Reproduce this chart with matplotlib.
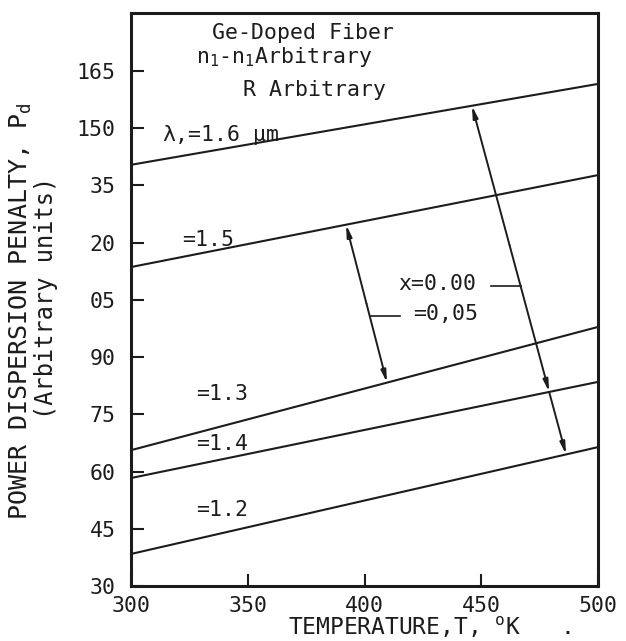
import numpy as np
import matplotlib
matplotlib.use('Agg')
import matplotlib.pyplot as plt

# wavelength curves, penalty read at T = 300 K and T = 500 K
temps = [300, 500]
lam_names = ['1.6', '1.5', '1.3', '1.4', '1.2']
pd_300 = [140.4, 113.6, 65.6, 58.3, 38.4]
pd_500 = [161.6, 137.7, 97.9, 83.5, 66.4]

# y tick labels exactly as printed on the scan
y_ticks = [30, 45, 60, 75, 90, 105, 120, 135, 150, 165]
y_tick_labels = ['30', '45', '60', '75', '90', '05', '20', '35', '150', '165']
x_ticks = [300, 350, 400, 450, 500]

# arrows: temperature at the upper / lower curve
arrow_a = (392.1, 409.6)   # from 1.5 curve down to 1.3 curve
arrow_b = (446.0, 486.3)   # from 1.6 curve down to 1.2 curve

ink = '#1c1c1c'
plt.rcParams['font.family'] = ['DejaVu Sans Mono', 'DejaVu Sans']
plt.rcParams['mathtext.fontset'] = 'custom'
plt.rcParams['mathtext.rm'] = 'DejaVu Sans Mono'
plt.rcParams['mathtext.it'] = 'DejaVu Sans Mono'
fs = 15.5


def curve(i, t):
    return np.interp(t, temps, [pd_300[i], pd_500[i]])


fig = plt.figure(figsize=(6.26, 6.41), dpi=100)
ax = fig.add_axes([0.2093, 0.0858, 0.746, 0.894])

for i in range(len(lam_names)):
    ax.plot(temps, [pd_300[i], pd_500[i]], color=ink, lw=1.5)

ax.set_xlim(300, 500)
ax.set_ylim(30, 180.2)
ax.set_xticks(x_ticks)
ax.set_yticks(y_ticks)
ax.set_yticklabels(y_tick_labels)
ax.tick_params(direction='in', length=9, width=1.5, colors=ink, labelsize=fs)
ax.tick_params(axis='y', pad=11)
ax.tick_params(axis='x', pad=7)
for s in ax.spines.values():
    s.set_linewidth(2.2)
    s.set_color(ink)

ax.set_xlabel('TEMPERATURE,T, $\\mathregular{^o}$K   .', fontsize=16.5, color=ink)
ax.xaxis.set_label_coords(0.336, -0.073)
ax.xaxis.label.set_ha('left')
ax.xaxis.label.set_va('center')
ax.set_ylabel('POWER DISPERSION PENALTY, P$_\\mathregular{d}$', fontsize=18, color=ink)
ax.yaxis.set_label_coords(-0.235, 0.48)
ax.yaxis.label.set_va('center')
fig.text(0.0735, 0.535, '(Arbitrary units)', rotation=90, fontsize=17,
         color=ink, ha='center', va='center')

# annotation text
ax.text(373.7, 174.9, 'Ge-Doped Fiber', fontsize=fs, ha='center', va='center', color=ink)
ax.text(328, 168.6, 'n$_\\mathregular{1}$-n$_\\mathregular{1}$Arbitrary', fontsize=fs,
        ha='left', va='center', color=ink)
ax.text(348, 160.0, 'R Arbitrary', fontsize=fs, ha='left', va='center', color=ink)
ax.text(313.3, 148.1, '$\\lambda$,=1.6 \u00b5m', fontsize=fs, ha='left', va='center', color=ink)
ax.text(321.8, 120.8, '=1.5', fontsize=fs, ha='left', va='center', color=ink)
ax.text(327.8, 80.3, '=1.3', fontsize=fs, ha='left', va='center', color=ink)
ax.text(327.8, 67.2, '=1.4', fontsize=fs, ha='left', va='center', color=ink)
ax.text(327.8, 49.9, '=1.2', fontsize=fs, ha='left', va='center', color=ink)
ax.text(414.3, 109.2, 'x=0.00', fontsize=fs, ha='left', va='center', color=ink)
ax.text(420.8, 101.4, '=0,05', fontsize=fs, ha='left', va='center', color=ink)

head = dict(arrowstyle='-|>,head_length=0.7,head_width=0.15', color=ink, lw=1.4,
            shrinkA=0, shrinkB=0)

# arrow A between 1.5 and 1.3
a_top = (arrow_a[0], curve(1, arrow_a[0]))
a_bot = (arrow_a[1], curve(2, arrow_a[1]))
a_mid = ((a_top[0] + a_bot[0]) / 2, (a_top[1] + a_bot[1]) / 2)
ax.annotate('', xy=a_top, xytext=a_mid, arrowprops=head)
ax.annotate('', xy=a_bot, xytext=a_mid, arrowprops=head)

# arrow B between 1.6 and 1.2, with a head at the 1.4 crossing
b_top = np.array([arrow_b[0], curve(0, arrow_b[0])])
b_bot = np.array([arrow_b[1], curve(4, arrow_b[1])])
d = b_bot - b_top
slope14 = (pd_500[3] - pd_300[3]) / (temps[1] - temps[0])
t = (curve(3, b_top[0]) - b_top[1]) / (d[1] - slope14 * d[0])
b_mid = b_top + t * d
ax.annotate('', xy=tuple(b_top), xytext=tuple(b_top + 0.4 * d), arrowprops=head)
ax.annotate('', xy=tuple(b_mid), xytext=tuple(b_top + 0.4 * d), arrowprops=head)
ax.annotate('', xy=tuple(b_bot), xytext=tuple(b_mid), arrowprops=head)

# leaders from the x labels to the arrows
yb = 108.6
xb = b_top[0] + (b_top[1] - yb) / (b_top[1] - b_bot[1]) * d[0]
ax.plot([454, xb], [yb, yb], color=ink, lw=1.2)
ya = 100.8
xa = a_top[0] + (a_top[1] - ya) / (a_top[1] - a_bot[1]) * (a_bot[0] - a_top[0])
ax.plot([xa, 415.2], [ya, ya], color=ink, lw=1.2)

fig.savefig('out.png', dpi=100, facecolor='white')
